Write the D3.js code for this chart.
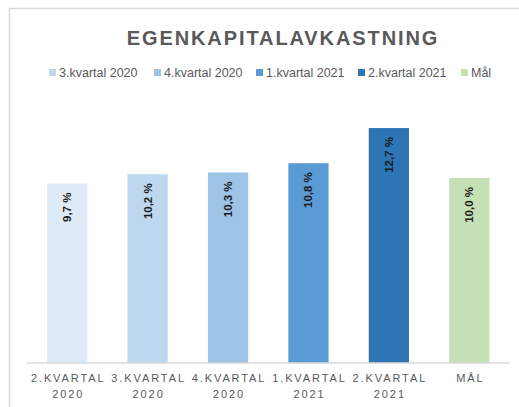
<!DOCTYPE html>
<html>
<head>
<meta charset="utf-8">
<script src="https://cdn.jsdelivr.net/npm/d3@7"></script>
<style>
  html, body { margin: 0; padding: 0; background: #fff; }
  svg { display: block; }
</style>
</head>
<body>
<svg id="chart" width="519" height="407"></svg>
<script>
const categories = [["2.KVARTAL", "2020"], ["3.KVARTAL", "2020"], ["4.KVARTAL", "2020"], ["1.KVARTAL", "2021"], ["2.KVARTAL", "2021"], ["MÅL"]];
const values = [9.7, 10.2, 10.3, 10.8, 12.7, 10.0];
const valueLabels = ["9,7 %", "10,2 %", "10,3 %", "10,8 %", "12,7 %", "10,0 %"];
const colors = ["#DEEBF7", "#BDD7EE", "#9DC3E6", "#5B9BD5", "#2E75B6", "#C5E0B4"];
const legendLabels = ["3.kvartal 2020", "4.kvartal 2020", "1.kvartal 2021", "2.kvartal 2021", "Mål"];
const legendColors = ["#BDD7EE", "#9DC3E6", "#5B9BD5", "#2E75B6", "#C5E0B4"];
const title = "EGENKAPITALAVKASTNING";

const svg = d3.select("#chart");
const font = "'Liberation Sans', Arial, sans-serif";

// chart frame
svg.append("path")
  .attr("d", "M9.5,407 V8.5 H519")
  .attr("fill", "none")
  .attr("stroke", "#d9d9d9")
  .attr("stroke-width", 1.5);

// title
svg.append("text")
  .attr("x", 283).attr("y", 45)
  .attr("text-anchor", "middle")
  .attr("font-family", font)
  .attr("font-weight", "bold")
  .attr("font-size", 20)
  .attr("letter-spacing", 1.9)
  .attr("fill", "#595959")
  .text(title);

// legend
const legendX = [49, 154, 256, 358, 461];
const lg = svg.append("g");
legendLabels.forEach((l, i) => {
  lg.append("rect")
    .attr("x", legendX[i]).attr("y", 69)
    .attr("width", 7).attr("height", 7)
    .attr("fill", legendColors[i]);
  lg.append("text")
    .attr("x", legendX[i] + 10).attr("y", 77)
    .attr("font-family", font)
    .attr("font-size", 12.5)
    .attr("fill", "#595959")
    .text(l);
});

// scales
const x = d3.scaleBand()
  .domain(d3.range(categories.length))
  .range([27, 509.5])
  .paddingInner(0.5).paddingOuter(0.25);
const y = d3.scaleLinear().domain([0, 14]).range([363, 104]);

// bars
svg.append("g").selectAll("rect")
  .data(values)
  .join("rect")
  .attr("x", (d, i) => x(i))
  .attr("y", d => y(d))
  .attr("width", x.bandwidth())
  .attr("height", d => y(0) - y(d))
  .attr("fill", (d, i) => colors[i]);

// value labels
svg.append("g").selectAll("text")
  .data(values)
  .join("text")
  .attr("transform", (d, i) => `translate(${x(i) + x.bandwidth() / 2 + 4},${y(d) + 9}) rotate(-90)`)
  .attr("text-anchor", "end")
  .attr("font-family", font)
  .attr("font-weight", "bold")
  .attr("font-size", 11.5)
  .attr("fill", "#1a1a1a")
  .text((d, i) => valueLabels[i]);

// x axis
const xAxis = d3.axisBottom(x).tickSize(0).tickFormat("");
const ax = svg.append("g").attr("transform", `translate(0,${y(0)})`).call(xAxis);
ax.select(".domain").attr("stroke", "#d9d9d9").attr("stroke-width", 1.5)
  .attr("d", `M27,0H509.5`);

const labs = svg.append("g");
categories.forEach((lines, i) => {
  const t = labs.append("text")
    .attr("x", x(i) + x.bandwidth() / 2 + 1)
    .attr("y", 382)
    .attr("text-anchor", "middle")
    .attr("font-family", font)
    .attr("font-size", 11)
    .attr("letter-spacing", 1.9)
    .attr("fill", "#595959");
  lines.forEach((ln, j) => {
    t.append("tspan")
      .attr("x", x(i) + x.bandwidth() / 2 + 1)
      .attr("dy", j === 0 ? 0 : 16)
      .text(ln);
  });
});
</script>
</body>
</html>
